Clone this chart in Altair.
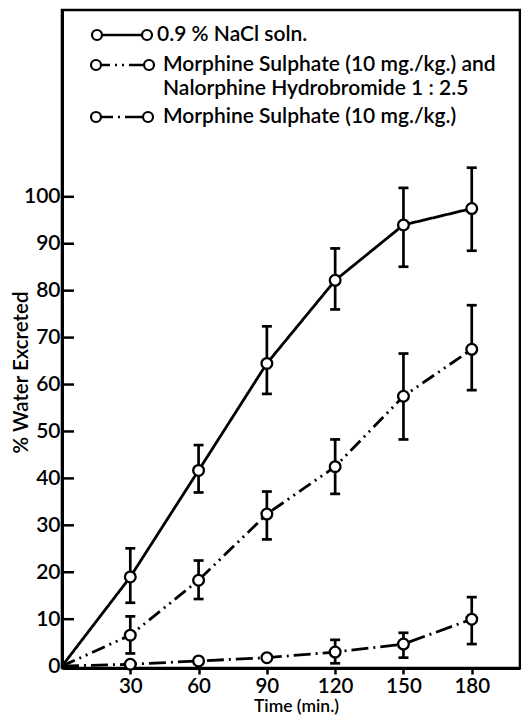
import altair as alt
import pandas as pd

# ---------------- data ----------------
times = [0, 30, 60, 90, 120, 150, 180]

series_names = ["nacl", "morph_nal", "morph"]
legend_lines = [
    ["0.9 % NaCl soln."],
    ["Morphine Sulphate (10 mg./kg.) and", "Nalorphine Hydrobromide 1 : 2.5"],
    ["Morphine Sulphate (10 mg./kg.)"],
]

nacl = [0, 19.0, 41.7, 64.5, 82.2, 94.0, 97.5]
nacl_lo = [None, 13.5, 37.0, 58.0, 76.0, 85.1, 88.5]
nacl_hi = [None, 25.1, 47.1, 72.4, 89.0, 101.9, 106.2]

morph_nal = [0, 6.6, 18.3, 32.4, 42.5, 57.5, 67.5]
morph_nal_lo = [None, 2.7, 14.3, 27.0, 36.7, 48.3, 58.8]
morph_nal_hi = [None, 10.6, 22.5, 37.2, 48.3, 66.6, 76.9]

morph = [0, 0.4, 1.1, 1.8, 3.0, 4.7, 10.0]
morph_lo = [None, None, None, None, 0.6, 1.8, 4.7]
morph_hi = [None, None, None, None, 5.6, 7.1, 14.7]

x_ticks = [30, 60, 90, 120, 150, 180]
y_ticks = [0, 10, 20, 30, 40, 50, 60, 70, 80, 90, 100]

# ---------------- tables ----------------
rows = []
for name, vals, lo, hi in [
    ("nacl", nacl, nacl_lo, nacl_hi),
    ("morph_nal", morph_nal, morph_nal_lo, morph_nal_hi),
    ("morph", morph, morph_lo, morph_hi),
]:
    for t, v, l, h in zip(times, vals, lo, hi):
        rows.append({"series": name, "time": t, "value": v, "lo": l, "hi": h})
df = pd.DataFrame(rows)
pts = df[df["time"] > 0]
errs = df.dropna(subset=["lo", "hi"])

FONT = "Lato"
W, H = 458, 658
dashes = [[1, 0], [14, 5, 2, 5, 2, 5], [17, 5, 2, 5]]

xs = alt.Scale(domain=[0, 201.2], nice=False, zero=False)
ys = alt.Scale(domain=[-0.4, 139.8], nice=False, zero=False)

base = alt.Chart(df)

lines = base.mark_line(color="black", strokeWidth=2.8).encode(
    x=alt.X("time:Q", scale=xs,
            axis=alt.Axis(values=x_ticks, title="Time (min.)", grid=False,
                          tickSize=6, tickWidth=2.5, labelPadding=2,
                          labelFontSize=20.5,
                          titleX=234, titleY=43, titleBaseline="alphabetic",
                          titleAnchor="start", titleAlign="center",
                          titleFontSize=17.5)),
    y=alt.Y("value:Q", scale=ys,
            axis=alt.Axis(values=y_ticks, title="% Water Excreted", grid=False,
                          tickSize=0, labelPadding=2,
                          titleX=-41, titleY=362, titleBaseline="middle",
                          titleAlign="center", titleAngle=-90,
                          titleFontSize=20.5)),
    strokeDash=alt.StrokeDash("series:N",
                              scale=alt.Scale(domain=series_names, range=dashes),
                              legend=None),
    detail="series:N",
)

err_rules = alt.Chart(errs).mark_rule(color="black", strokeWidth=2.7).encode(
    x="time:Q", y="lo:Q", y2="hi:Q")
err_lo = alt.Chart(errs).mark_tick(color="black", orient="horizontal", size=10,
                                   thickness=2.7, opacity=1).encode(x="time:Q", y="lo:Q")
err_hi = alt.Chart(errs).mark_tick(color="black", orient="horizontal", size=10,
                                   thickness=2.7, opacity=1).encode(x="time:Q", y="hi:Q")

points = alt.Chart(pts).mark_point(shape="circle", filled=True, fill="white",
                                   stroke="black", strokeWidth=2.3, size=115,
                                   opacity=1).encode(x="time:Q", y="value:Q")

inner_ticks = alt.Chart(pd.DataFrame({"v": y_ticks[1:]})).mark_rule(
    color="black", strokeWidth=2.5).encode(y="v:Q", x=alt.value(0), x2=alt.value(12))

# ---------------- hand-drawn style legend ----------------
legend_layers = []
row_y = [25, 55, 107]
left_x = [35, 34, 34]
right_x = [85, 87, 86]
text_x = [95, 101, 101]
one = pd.DataFrame({"a": [0]})
for i, name in enumerate(series_names):
    legend_layers.append(
        alt.Chart(one).mark_rule(color="black", strokeWidth=2.4,
                                 strokeDash=dashes[i]).encode(
            x=alt.value(left_x[i]), x2=alt.value(right_x[i]), y=alt.value(row_y[i])))
    for cx in (left_x[i], right_x[i]):
        legend_layers.append(
            alt.Chart(one).mark_point(shape="circle", filled=True, fill="white",
                                      stroke="black", strokeWidth=2.2, size=100,
                                      opacity=1).encode(
                x=alt.value(cx), y=alt.value(row_y[i])))
    for j, txt in enumerate(legend_lines[i]):
        legend_layers.append(
            alt.Chart(pd.DataFrame({"t": [txt]})).mark_text(
                align="left", baseline="middle", font=FONT, fontSize=21,
                fontWeight=600, color="black").encode(
                x=alt.value(text_x[i]), y=alt.value(row_y[i] + 24 * j), text="t:N"))

chart = alt.layer(lines, inner_ticks, err_rules, err_lo, err_hi, points,
                  *legend_layers).properties(
    width=W, height=H,
    autosize=alt.AutoSizeParams(type="none"),
    padding={"left": 54, "top": 2, "right": 1, "bottom": 49},
).configure_view(stroke="black", strokeWidth=2.6).configure_axis(
    domainColor="black", domainWidth=3, tickColor="black",
    labelFont=FONT, labelFontSize=21, labelColor="black", labelFontWeight=600,
    titleFont=FONT, titleFontSize=18, titleColor="black", titleFontWeight=600,
)

chart.save("out.html", embed_options={"renderer": "svg", "actions": False})
